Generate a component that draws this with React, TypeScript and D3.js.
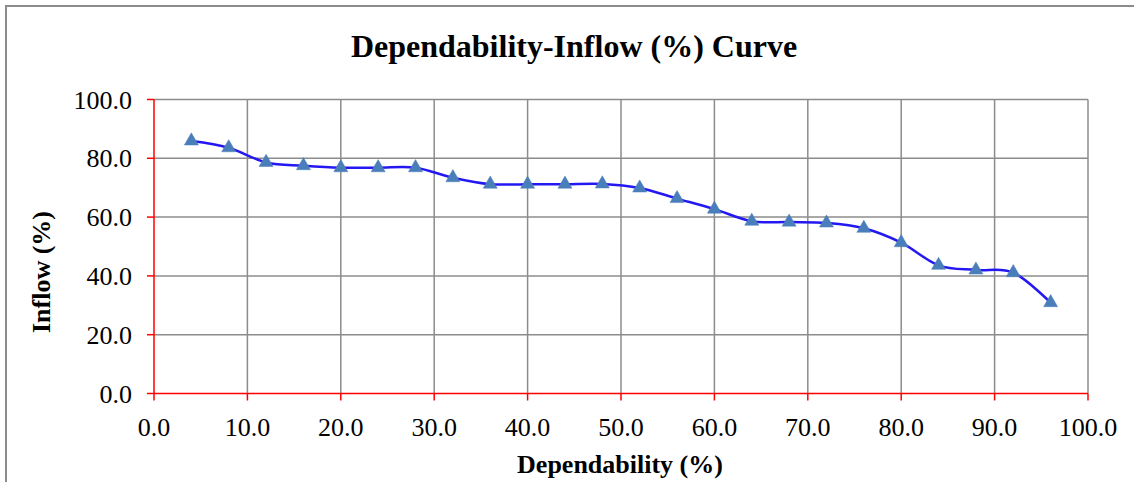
import React from 'react'
import * as d3 from 'd3'

const dependability = [4, 8, 12, 16, 20, 24, 28, 32, 36, 40, 44, 48, 52, 56, 60, 64, 68, 72, 76, 80, 84, 88, 92, 96]
const inflow = [85.9, 83.6, 78.6, 77.5, 76.8, 76.8, 76.8, 73.4, 71.2, 71.2, 71.2, 71.3, 69.9, 66.3, 62.7, 58.6, 58.3, 58.0, 56.2, 51.3, 43.6, 42.0, 41.1, 30.9]
const xTicks = [0, 10, 20, 30, 40, 50, 60, 70, 80, 90, 100]
const yTicks = [0, 20, 40, 60, 80, 100]

const W = 1134
const H = 482
const plot = { left: 154, right: 1088, top: 99.5, bottom: 393.5 }
const font = '"Liberation Serif", "Times New Roman", serif'

const App = () => {
    const x = d3.scaleLinear().domain([0, 100]).range([plot.left, plot.right])
    const y = d3.scaleLinear().domain([0, 100]).range([plot.bottom, plot.top])

    const points = dependability.map((d, i) => [d, inflow[i]] as [number, number])
    const line = d3.line<[number, number]>()
        .x(d => x(d[0]))
        .y(d => y(d[1]))
        .curve(d3.curveCardinal.tension(0))

    const tri = d3.symbol().type(d3.symbolTriangle).size(85)()

    return (
        <svg width={W} height={H} style={{ position: 'absolute', left: 0, top: 0, background: 'white' }}>
            {/* outer chart border, runs off the right and bottom */}
            <rect x={6} y={6} width={W + 10} height={H + 10} fill="white" stroke="#8c8c8c" strokeWidth={2} />

            <text x={574} y={57} textAnchor="middle" fontFamily={font} fontWeight="bold" fontSize={32}>
                Dependability-Inflow (%) Curve
            </text>

            {/* grid */}
            {xTicks.slice(1).map(t => (
                <line key={'gx' + t} x1={x(t)} x2={x(t)} y1={plot.top} y2={plot.bottom} stroke="#8c8c8c" strokeWidth={1.5} />
            ))}
            {yTicks.slice(1).map(t => (
                <line key={'gy' + t} x1={plot.left} x2={plot.right} y1={y(t)} y2={y(t)} stroke="#8c8c8c" strokeWidth={1.5} />
            ))}

            {/* axes */}
            <line x1={plot.left} x2={plot.left} y1={plot.top} y2={plot.bottom} stroke="red" strokeWidth={1.5} />
            <line x1={plot.left} x2={plot.right} y1={plot.bottom} y2={plot.bottom} stroke="red" strokeWidth={1.5} />
            {yTicks.map(t => (
                <g key={'ty' + t}>
                    <line x1={plot.left - 7} x2={plot.left} y1={y(t)} y2={y(t)} stroke="red" strokeWidth={1.5} />
                    <text x={plot.left - 22} y={y(t)} dy="0.35em" textAnchor="end" fontFamily={font} fontSize={26}>
                        {t.toFixed(1)}
                    </text>
                </g>
            ))}
            {xTicks.map(t => (
                <g key={'tx' + t}>
                    <line x1={x(t)} x2={x(t)} y1={plot.bottom} y2={plot.bottom + 7} stroke="red" strokeWidth={1.5} />
                    <text x={x(t)} y={436} textAnchor="middle" fontFamily={font} fontSize={26}>
                        {t.toFixed(1)}
                    </text>
                </g>
            ))}

            <text x={620} y={473} textAnchor="middle" fontFamily={font} fontWeight="bold" fontSize={26}>
                Dependability (%)
            </text>
            <text transform="translate(50,272) rotate(-90)" textAnchor="middle" fontFamily={font} fontWeight="bold" fontSize={26}>
                Inflow (%)
            </text>

            <path d={line(points) || ''} fill="none" stroke="#2418f2" strokeWidth={2.5} />
            {points.map((p, i) => (
                <path key={i} d={tri || ''} transform={`translate(${x(p[0])},${y(p[1])})`} fill="#4a7ebb" stroke="#4a7ebb" strokeWidth={0.5} />
            ))}
        </svg>
    )
}

export default App
